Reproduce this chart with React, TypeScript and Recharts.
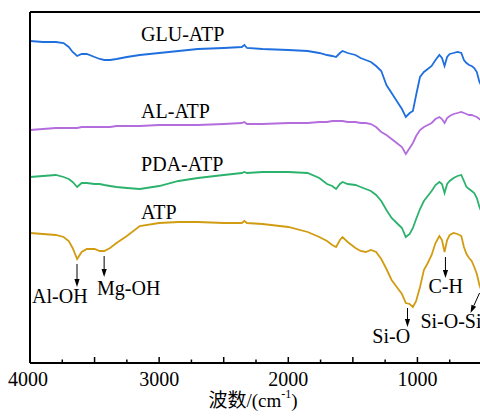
import React from 'react';
import { LineChart, Line, XAxis, YAxis, ReferenceLine, ReferenceDot } from 'recharts';

const FONT = "'Liberation Serif', 'Times New Roman', 'Noto Sans CJK SC', serif";

// wavenumber grid (cm-1), shared by all spectra
const WAVENUMBERS = [
  4000, 3900, 3800, 3740, 3700, 3670, 3635, 3600, 3560, 3500,
  3460, 3425, 3380, 3330, 3250, 3150, 3000, 2850, 2700, 2500,
  2360, 2340, 2320, 2200, 2000, 1850, 1760, 1700, 1660, 1630,
  1600, 1580, 1540, 1480, 1440, 1400, 1360, 1320, 1280, 1240,
  1200, 1160, 1120, 1090, 1060, 1035, 1010, 980, 950, 920,
  890, 860, 830, 810, 790, 770, 750, 720, 690, 660,
  640, 620, 600, 580, 560, 540, 520, 500,
];

// offset transmittance (a.u.)
const GLU_ATP = [
  322, 321, 321, 320, 316, 311, 307, 309, 309, 306,
  304, 303, 303, 304, 306, 308, 310, 312, 314, 315,
  316, 318, 315, 314, 313, 312, 310, 308, 307, 306,
  310, 312, 310, 308, 305, 303, 301, 297, 292, 278,
  270, 262, 254, 246, 250, 252, 268, 286, 291, 294,
  297, 303, 308, 305, 297, 306, 309, 310, 311, 310,
  303, 300, 298, 297, 295, 291, 281, 276,
];

const AL_ATP = [
  233, 234, 235, 235, 235, 235, 235, 236, 236, 236,
  236, 236, 236, 237, 237, 237, 238, 238, 238, 239,
  240, 241, 239, 239, 240, 240, 241, 241, 242, 242,
  242, 242, 241, 241, 240, 240, 239, 236, 231, 228,
  224, 220, 216, 209, 215, 220, 227, 233, 236, 238,
  240, 244, 246, 244, 240, 245, 247, 249, 250, 251,
  250, 249, 248, 248, 247, 246, 244, 242,
];

const PDA_ATP = [
  186, 187, 188, 186, 184, 181, 176, 180, 180, 179,
  179, 178, 177, 176, 175, 174, 177, 182, 185, 188,
  190, 191, 190, 191, 191, 190, 185, 179, 177, 174,
  179, 181, 179, 178, 176, 174, 172, 168, 162, 153,
  145, 140, 135, 126, 129, 135, 144, 154, 162, 167,
  172, 178, 181, 179, 170, 179, 182, 185, 187, 188,
  182, 176, 174, 172, 170, 165, 156, 150,
];

const ATP = [
  130, 129, 128, 126, 122, 115, 104, 111, 114, 114,
  112, 112, 115, 120, 127, 137, 140, 141, 141, 140,
  140, 142, 140, 139, 136, 131, 126, 122, 118, 116,
  123, 126, 121, 115, 112, 111, 113, 111, 104, 94,
  83, 76, 69, 60, 59, 56, 62, 76, 93, 100,
  108, 120, 127, 123, 111, 123, 128, 130, 129, 127,
  116, 109, 105, 102, 96, 89, 78, 71,
];

const X_TICKS = [4000, 3750, 3500, 3250, 3000, 2750, 2500, 2250, 2000, 1750, 1500, 1250, 1000, 750, 500];

// sample names: [text, wavenumber, level]
const SAMPLE_LABELS: [string, number, number][] = [
  ['GLU-ATP', 3140, 322],
  ['AL-ATP', 3140, 245],
  ['PDA-ATP', 3140, 192],
  ['ATP', 3140, 144],
];

// band assignments: [text, wavenumber, level]
const BAND_LABELS: [string, number, number][] = [
  ['Al-OH', 3984, 60],
  ['Mg-OH', 3481, 68],
  ['Si-O', 1349, 20],
  ['C-H', 915, 70],
  ['Si-O-Si', 977, 35],
];

// arrows: [from wn, from level, to wn, to level]
const ARROWS: [number, number, number, number][] = [
  [3636, 99, 3636, 76],
  [3426, 107, 3426, 86],
  [1077, 55, 1077, 36],
  [783, 106, 783, 85],
  [519, 70, 589, 50],
];

const data = WAVENUMBERS.map((wn, i) => ({
  wn,
  glu: GLU_ATP[i],
  al: AL_ATP[i],
  pda: PDA_ATP[i],
  atp: ATP[i],
}));

function XTick(props: any) {
  const { x, y, payload } = props;
  const v = payload.value as number;
  const major = v % 500 === 0;
  return (
    <g>
      <line x1={x} x2={x} y1={y} y2={y - (major ? 6 : 3.5)} stroke="#000" strokeWidth={1.5} />
      {v % 1000 === 0 && (
        <text x={v === 4000 ? x - 2 : x} y={y + 23} textAnchor="middle" fontFamily={FONT} fontSize={20} fill="#000">
          {v}
        </text>
      )}
    </g>
  );
}

function Arrow(props: any) {
  const { x1, y1, x2, y2 } = props;
  const dx = x2 - x1;
  const dy = y2 - y1;
  const len = Math.sqrt(dx * dx + dy * dy) || 1;
  const ux = dx / len;
  const uy = dy / len;
  const hl = 8;
  const hw = 2.6;
  const bx = x2 - ux * hl;
  const by = y2 - uy * hl;
  return (
    <g>
      <line x1={x1} y1={y1} x2={bx} y2={by} stroke="#000" strokeWidth={1} />
      <polygon
        points={`${x2},${y2} ${bx - uy * hw},${by + ux * hw} ${bx + uy * hw},${by - ux * hw}`}
        fill="#000"
      />
    </g>
  );
}

function textShape(text: string) {
  return (p: any) => (
    <text x={p.cx} y={p.cy} fontFamily={FONT} fontSize={20} fill="#000">
      {text}
    </text>
  );
}

function AxisTitle(props: any) {
  const { viewBox } = props;
  const cx = viewBox.x + viewBox.width / 2 - 3;
  return (
    <text x={cx} y={407} textAnchor="middle" fontFamily={FONT} fontSize={19} fill="#000">
      波数/(cm
      <tspan fontSize={12} dy={-9}>-1</tspan>
      <tspan dy={9}>)</tspan>
    </text>
  );
}

export default function App() {
  return (
    <div style={{ position: 'absolute', left: 0, top: 0, width: 480, height: 416, overflow: 'hidden', background: '#fff' }}>
      <LineChart width={482} height={416} data={data} margin={{ top: 12, right: 0, bottom: 0, left: 0 }}>
        <XAxis
          dataKey="wn"
          type="number"
          domain={[500, 4000]}
          reversed
          allowDataOverflow
          ticks={X_TICKS}
          interval={0}
          tick={<XTick />}
          tickLine={false}
          tickSize={0}
          tickMargin={0}
          height={53}
          axisLine={{ stroke: '#000', strokeWidth: 2 }}
          label={<AxisTitle />}
        />
        <YAxis
          type="number"
          domain={[0, 351]}
          width={30}
          tick={false}
          tickLine={false}
          axisLine={{ stroke: '#000', strokeWidth: 2 }}
        />
        <ReferenceLine y={351} stroke="#000" strokeWidth={2} ifOverflow="visible" />
        <Line dataKey="glu" type="linear" stroke="#1f6fde" strokeWidth={1.8} dot={false} isAnimationActive={false} />
        <Line dataKey="al" type="linear" stroke="#b46ddc" strokeWidth={1.8} dot={false} isAnimationActive={false} />
        <Line dataKey="pda" type="linear" stroke="#2bb26c" strokeWidth={1.8} dot={false} isAnimationActive={false} />
        <Line dataKey="atp" type="linear" stroke="#d29c12" strokeWidth={1.8} dot={false} isAnimationActive={false} />
        {SAMPLE_LABELS.concat(BAND_LABELS).map(([t, wn, lv]) => (
          <ReferenceDot key={t} x={wn} y={lv} r={0} ifOverflow="visible" shape={textShape(t)} />
        ))}
        {ARROWS.map(([w1, l1, w2, l2], i) => (
          <ReferenceLine
            key={i}
            segment={[{ x: w1, y: l1 }, { x: w2, y: l2 }]}
            ifOverflow="visible"
            shape={(p: any) => <Arrow {...p} />}
          />
        ))}
      </LineChart>
    </div>
  );
}
